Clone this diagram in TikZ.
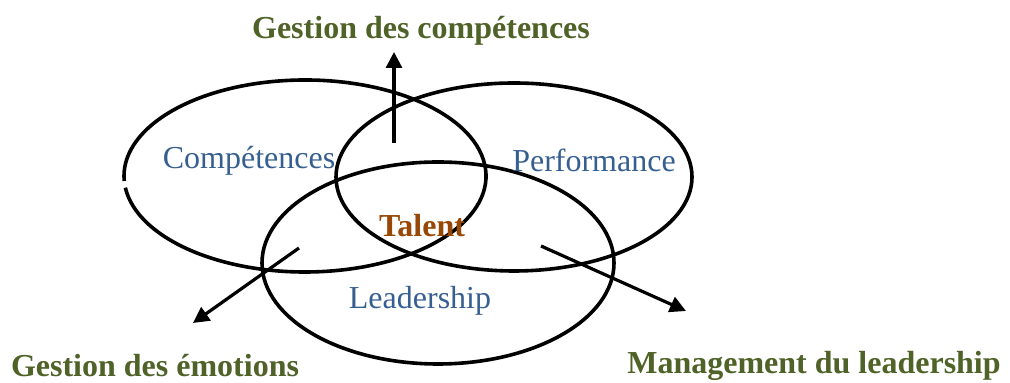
\documentclass[tikz,border=0pt]{standalone}
\usepackage{fontspec}
\setmainfont{Liberation Serif}
\usetikzlibrary{arrows.meta, positioning}
\definecolor{talentgreen}{RGB}{79, 98, 40}
\definecolor{talentblue}{RGB}{54, 95, 145}
\definecolor{talentbrown}{RGB}{151, 72, 6}

\begin{document}
\begin{tikzpicture}[x=0.5pt, y=0.5pt, every node/.style={align=center, font=\fontsize{16}{19}\selectfont}]
        \useasboundingbox (0,0) rectangle (1010,383);
        % the three circles
        \draw[line width=1.8pt] (305,207) ++(187:181 and 96) arc[start angle=187, end angle=543, x radius=181, y radius=96];
        \draw[line width=1.8pt] (514,206) ellipse[x radius=178, y radius=94];
        \draw[line width=1.8pt] (438,120) ellipse[x radius=176, y radius=101];

        \node[text=talentblue] (comp) at (249,222) {Compétences};
        \node[text=talentblue] (perf) at (594,223) {Performance};
        \node[text=talentblue] (lead) at (420,82) {Leadership};
        \node[text=talentbrown, font=\fontsize{16}{19}\selectfont\bfseries] (talent) at (422,157) {Talent};

        \node[text=talentgreen, font=\fontsize{16}{19}\selectfont\bfseries] (gcomp) at (421,352) {Gestion des compétences};
        \node[text=talentgreen, font=\fontsize{16}{19}\selectfont\bfseries] (gemo) at (155,17) {Gestion des émotions};
        \node[text=talentgreen, font=\fontsize{16}{19}\selectfont\bfseries] (mlead) at (814,17) {Management du leadership};

        \coordinate (up0) at (394,240);
        \coordinate (up1) at (394,331);
        \coordinate (left0) at (299,135);
        \coordinate (left1) at (193,60);
        \coordinate (right0) at (541,137);
        \coordinate (right1) at (686,72);

        \draw[line width=1.6pt, -{Triangle[length=8pt, width=8pt]}] (up0) -- (up1);
        \draw[line width=1.6pt, -{Triangle[length=8pt, width=8pt]}] (left0) -- (left1);
        \draw[line width=1.6pt, -{Triangle[length=8pt, width=8pt]}] (right0) -- (right1);
    \end{tikzpicture}
\end{document}
